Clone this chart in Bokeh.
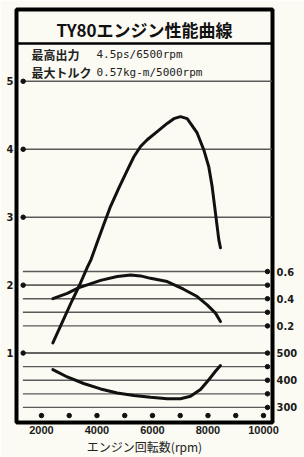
from bokeh.plotting import figure
from bokeh.models import Range1d, LinearAxis, FixedTicker, Span, Label
from bokeh.embed import file_html
from bokeh.resources import INLINE

# ---------------- data ----------------
rpm_tick_values = [2000, 4000, 6000, 8000, 10000]
rpm_dot_values = [2000, 3000, 4000, 5000, 6000, 7000, 8000, 9000, 10000]
ps_tick_values = [1, 2, 3, 4, 5]
torque_tick_values = [0.2, 0.4, 0.6]
torque_line_values = [0.2, 0.3, 0.4, 0.5, 0.6]
fuel_tick_values = [300, 400, 500]
fuel_line_values = [300, 350, 400, 450, 500]

power_rpm = [2410, 2800, 3100, 3350, 3650, 3790, 4010, 4250, 4490, 4790, 5090, 5330, 5570, 5810,
             6170, 6530, 6770, 7010, 7250, 7370, 7610, 7850, 8030, 8150, 8270, 8390, 8450]
power_ps = [1.15, 1.50, 1.77, 1.98, 2.26, 2.38, 2.63, 2.90, 3.16, 3.43, 3.69, 3.89, 4.04, 4.14,
            4.26, 4.38, 4.45, 4.48, 4.45, 4.38, 4.24, 3.99, 3.74, 3.45, 3.06, 2.67, 2.55]

torque_rpm = [2410, 2930, 3330, 4130, 4730, 5210, 5570, 5930, 6530, 7120, 7610, 7970, 8270, 8450]
torque_kgm = [0.40, 0.44, 0.48, 0.535, 0.563, 0.575, 0.568, 0.55, 0.526, 0.47, 0.416, 0.355, 0.294, 0.233]

fuel_rpm = [2410, 2930, 3520, 4130, 4730, 5330, 5930, 6530, 7010, 7370, 7730, 8030, 8270, 8450]
fuel_gpsh = [439, 412, 388, 368, 353, 344, 337, 332, 332, 341, 366, 402, 433, 454]

title_text = "TY80エンジン性能曲線"
spec_names = ["最高出力", "最大トルク"]
spec_values = ["4.5ps/6500rpm", "0.57kg-m/5000rpm"]
x_title = "エンジン回転数(rpm)"

# ---------------- scales ----------------
X0, X1 = 1100, 10325
Y0, Y1 = -0.022, 6.057


def torque_to_ps(t):
    return 2 * t + 1


def fuel_to_ps(f):
    return 1 + (f - 500) / 250


BG = "#fbfaf3"
INK = "#111111"
GRID = "#5a5a5a"
NARROW = "'Liberation Sans Narrow', 'DejaVu Sans Condensed', 'Liberation Sans', sans-serif"
CJK = "'Noto Sans CJK JP', sans-serif"

p = figure(width=304, height=457, output_backend="svg", toolbar_location=None,
           x_range=Range1d(X0, X1), y_range=Range1d(Y0, Y1),
           x_axis_location=None, y_axis_location=None,
           min_border_left=16, min_border_right=32, min_border_top=9, min_border_bottom=34,
           background_fill_color=BG, border_fill_color=BG,
           outline_line_color="black", outline_line_width=4)
p.grid.visible = False

p.extra_y_ranges = {
    "torque": Range1d((Y0 - 1) / 2, (Y1 - 1) / 2),
    "fuel": Range1d(500 + (Y0 - 1) * 250, 500 + (Y1 - 1) * 250),
}

LINE_START = 1330
DOT_RIGHT = 10144
LINE_END_FULL = 10300

shared_ps = set([torque_to_ps(v) for v in torque_line_values] + [fuel_to_ps(v) for v in fuel_line_values])
ps_line_ends = [DOT_RIGHT if v in shared_ps else LINE_END_FULL for v in ps_tick_values]

# horizontal reference lines
p.segment(x0=[LINE_START] * len(ps_tick_values), y0=ps_tick_values,
          x1=ps_line_ends, y1=ps_tick_values, line_color=GRID, line_width=1.4)
p.segment(x0=[LINE_START] * len(torque_line_values), y0=torque_line_values,
          x1=[DOT_RIGHT] * len(torque_line_values), y1=torque_line_values,
          line_color=GRID, line_width=1.4, y_range_name="torque")
p.segment(x0=[LINE_START] * len(fuel_line_values), y0=fuel_line_values,
          x1=[DOT_RIGHT] * len(fuel_line_values), y1=fuel_line_values,
          line_color=GRID, line_width=1.4, y_range_name="fuel")

# dots
p.scatter([1340] * len(ps_tick_values), ps_tick_values, size=4.5, color=INK)
p.scatter([DOT_RIGHT] * len(torque_line_values), torque_line_values, size=4.5, color=INK,
          y_range_name="torque")
p.scatter([DOT_RIGHT] * len(fuel_line_values), fuel_line_values, size=4.5, color=INK,
          y_range_name="fuel")
p.scatter(rpm_dot_values, [0.08] * len(rpm_dot_values), size=4.5, color=INK)

# curves
p.line(power_rpm, power_ps, line_color=INK, line_width=3, line_join="round", line_cap="round")
p.line(torque_rpm, torque_kgm, line_color=INK, line_width=3, line_join="round", line_cap="round",
       y_range_name="torque")
p.line(fuel_rpm, fuel_gpsh, line_color=INK, line_width=3, line_join="round", line_cap="round",
       y_range_name="fuel")

# title box separator
p.add_layout(Span(location=5.558, dimension="width", line_color="black", line_width=2.5))


def style_axis(ax, font, size, standoff, bold=True):
    ax.axis_line_color = None
    ax.major_tick_in = 0
    ax.major_tick_out = 0
    ax.minor_tick_in = 0
    ax.minor_tick_out = 0
    ax.major_label_standoff = standoff
    ax.major_label_text_font = font
    ax.major_label_text_font_size = size
    ax.major_label_text_font_style = "bold" if bold else "normal"
    ax.major_label_text_color = "#1a1a1a"


xaxis = LinearAxis(ticker=FixedTicker(ticks=rpm_tick_values), axis_label=x_title)
style_axis(xaxis, "'Liberation Sans', sans-serif", "11px", 3)
xaxis.axis_label_standoff = 1
xaxis.axis_label_text_font = CJK
xaxis.axis_label_text_font_size = "12px"
xaxis.axis_label_text_font_style = "normal"
xaxis.axis_label_text_color = "#222222"
p.add_layout(xaxis, "below")

yaxis = LinearAxis(ticker=FixedTicker(ticks=ps_tick_values))
style_axis(yaxis, NARROW, "11px", 3)
p.add_layout(yaxis, "left")

right_ticks = list(torque_tick_values)
right_labels = {}
for t in torque_tick_values:
    right_labels[t] = str(t)
for f in fuel_tick_values:
    tv = (f - 500) / 500  # fuel value expressed on the torque scale
    right_ticks.append(tv)
    right_labels[tv] = str(f)
raxis = LinearAxis(y_range_name="torque", ticker=FixedTicker(ticks=right_ticks),
                   major_label_overrides=right_labels)
style_axis(raxis, NARROW, "11px", 4)
p.add_layout(raxis, "right")

# texts
p.add_layout(Label(x=(X0 + X1) / 2, y=5.764, text=title_text, text_align="center",
                   text_baseline="middle", text_font=CJK,
                   text_font_size="17px", text_font_style="bold", text_color=INK))
for i, (nm, vl) in enumerate(zip(spec_names, spec_values)):
    yy = 5.396 - i * 0.264
    p.add_layout(Label(x=1640, y=yy, text=nm, text_baseline="middle",
                       text_font=CJK, text_font_size="12px",
                       text_font_style="bold", text_color="#222222"))
    p.add_layout(Label(x=3982, y=yy, text=vl, text_baseline="middle",
                       text_font="'DejaVu Sans Mono', monospace", text_font_size="11px",
                       text_color="#222222"))

open("out.html", "w").write(file_html(p, INLINE))
